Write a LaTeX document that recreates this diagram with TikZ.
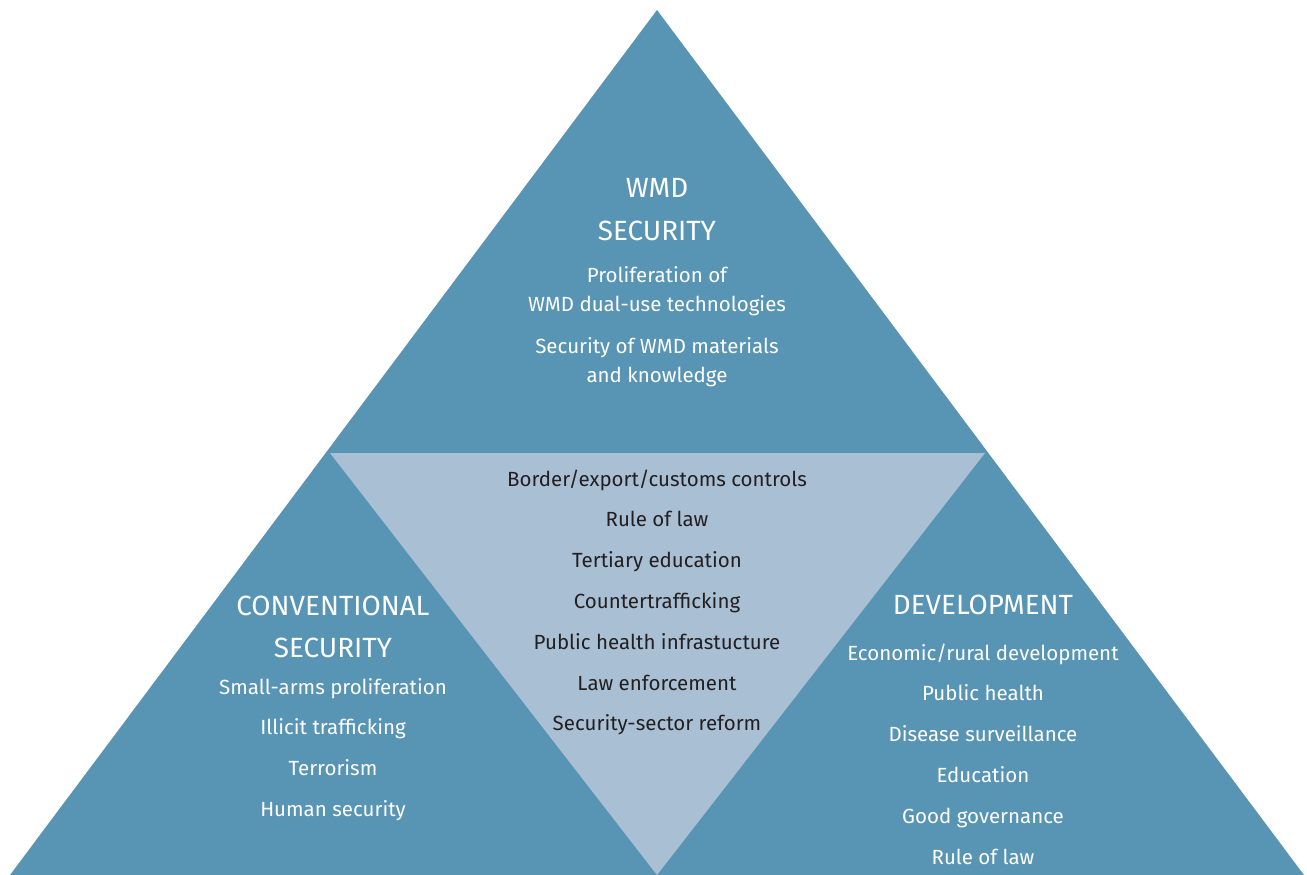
\documentclass[tikz,border=0pt]{standalone}
\usepackage{fontspec}
\setmainfont{Fira Sans}
\definecolor{darkblue}{HTML}{5894B3}
\definecolor{lightblue}{HTML}{A9C0D4}
\definecolor{darktext}{HTML}{231F20}
\begin{document}
\begin{tikzpicture}[x=1pt,y=-1pt,
  head/.style={anchor=base,text=white,font=\fontsize{27.8}{32}\selectfont,inner sep=0pt},
  wtext/.style={anchor=base,text=white,font=\fontsize{20.5}{24}\selectfont,inner sep=0pt},
  dtext/.style={anchor=base,text=darktext,font=\fontsize{20.5}{24}\selectfont,inner sep=0pt}]
\useasboundingbox (0,0) rectangle (1307,875);
\coordinate (apex) at (657,10);
\coordinate (bl) at (10,875);
\coordinate (br) at (1304,875);
\coordinate (itl) at (330,453);
\coordinate (itr) at (985,453);
\coordinate (ib) at (657,875);
\fill[darkblue] (apex) -- (br) -- (bl) -- cycle;
\fill[lightblue] (itl) -- (itr) -- (ib) -- cycle;
% WMD
\node[head] (w1) at (657,197) {WMD};
\node[head] (w2) at (657,240) {SECURITY};
\node[wtext] (w3) at (657,282) {Proliferation of};
\node[wtext] (w4) at (657,311) {WMD dual-use technologies};
\node[wtext] (w5) at (657,353) {Security of WMD materials};
\node[wtext] (w6) at (657,382) {and knowledge};
% center
\foreach \t [count=\i] in {Border/export/customs controls,Rule of law,Tertiary education,Countertrafficking,Public health infrastucture,Law enforcement,Security-sector reform}
  \node[dtext] (m\i) at (657,{486+40.8*(\i-1)}) {\t};
% conventional
\node[head] (c1) at (333,615) {CONVENTIONAL};
\node[head] (c2) at (333,657) {SECURITY};
\foreach \t [count=\i] in {Small-arms proliferation,Illicit trafficking,Terrorism,Human security}
  \node[wtext] (c\i x) at (333,{694+40.8*(\i-1)}) {\t};
% development
\node[head] (d1) at (983,614) {DEVELOPMENT};
\foreach \t [count=\i] in {Economic/rural development,Public health,Disease surveillance,Education,Good governance,Rule of law}
  \node[wtext] (d\i x) at (983,{660+40.8*(\i-1)}) {\t};
\end{tikzpicture}
\end{document}
